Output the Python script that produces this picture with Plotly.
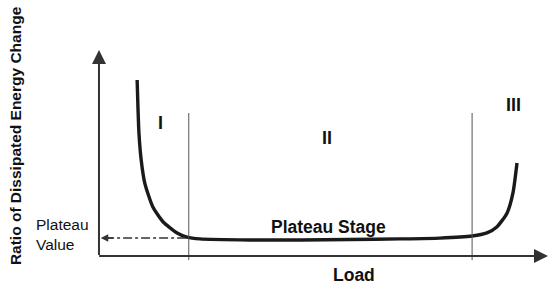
import plotly.graph_objects as go

# curve (load, ratio of dissipated energy change)
load = [8.5, 8.7, 8.9, 9.4, 10.2, 12.0, 14.3, 17.4, 19.6, 22.5, 33.6, 44.8, 55.9, 67.0, 75.9, 83.1, 86.4, 88.6, 90.9, 92.2, 93.1]
ratio = [85.4, 70.9, 59.7, 46.6, 35.4, 23.8, 16.5, 11.2, 9.2, 8.3, 7.8, 7.8, 8.0, 8.3, 8.7, 9.7, 11.2, 14.1, 20.9, 30.6, 45.1]

stage_bounds = [20.0, 83.1]
stage_names = ["I", "II", "III"]
stage_x = [13.6, 50.7, 92.3]
stage_y = [64.6, 57.3, 73.1]
plateau_value = 8.7

fig = go.Figure()
fig.add_trace(go.Scatter(x=load, y=ratio, mode="lines",
                         line=dict(color="#1a1a1a", width=3.4, shape="spline", smoothing=0.6),
                         hoverinfo="skip"))
# dash-dot guide to the plateau value
fig.add_trace(go.Scatter(x=[19.4, 1.5], y=[plateau_value, plateau_value], mode="lines",
                         line=dict(color="#333", width=1.5, dash="dashdot"), hoverinfo="skip"))

for xb in stage_bounds:
    fig.add_shape(type="line", x0=xb, x1=xb, y0=-2, y1=69.4, xref="x", yref="y",
                  line=dict(color="#555", width=1))

anns = []
# axes drawn as arrows
anns.append(dict(x=100, y=0, ax=-0.3, ay=0, xref="x", yref="y", axref="x", ayref="y",
                 showarrow=True, arrowhead=2, arrowsize=1.4, arrowwidth=2, arrowcolor="#333", text=""))
anns.append(dict(x=0, y=100, ax=0, ay=-0.3, xref="x", yref="y", axref="x", ayref="y",
                 showarrow=True, arrowhead=2, arrowsize=1.4, arrowwidth=2, arrowcolor="#333", text=""))
anns.append(dict(x=0.4, y=plateau_value, ax=3.5, ay=plateau_value, xref="x", yref="y", axref="x", ayref="y",
                 showarrow=True, arrowhead=2, arrowsize=1, arrowwidth=1.5, arrowcolor="#333", text=""))

for name, sx, sy in zip(stage_names, stage_x, stage_y):
    anns.append(dict(x=sx, y=sy, xref="x", yref="y", text="<b>%s</b>" % name, showarrow=False,
                     font=dict(size=18, color="#111")))

anns.append(dict(x=51.2, y=14.1, xref="x", yref="y", text="<b>Plateau Stage</b>", showarrow=False,
                 font=dict(size=17.5, color="#111")))
anns.append(dict(x=-0.1217, y=0.135, xref="paper", yref="paper", text="Plateau<br>Value", showarrow=False,
                 xanchor="left", yanchor="middle", align="left", font=dict(size=15.5, color="#111")))
anns.append(dict(x=0.573, y=-0.048, xref="paper", yref="paper", text="<b>Load</b>", showarrow=False,
                 xanchor="center", yanchor="middle", font=dict(size=17.5, color="#111")))
anns.append(dict(x=-0.163, y=0.584, xref="paper", yref="paper", text="<b>Ratio of Dissipated Energy Change</b>",
                 showarrow=False, textangle=-90, xanchor="center", yanchor="middle",
                 font=dict(size=15.5, color="#111")))

fig.update_layout(width=550, height=289,
                  margin=dict(l=90, r=0, t=45, b=25),
                  paper_bgcolor="white", plot_bgcolor="white",
                  showlegend=False,
                  font=dict(family="Liberation Sans, Arial, sans-serif"),
                  annotations=anns,
                  xaxis=dict(range=[-2.0, 100.45], visible=False, fixedrange=True),
                  yaxis=dict(range=[-3.88, 102.4], visible=False, fixedrange=True))

fig.write_html("out.html", config={"displayModeBar": False},
               post_script="document.body.style.margin='0px';")
